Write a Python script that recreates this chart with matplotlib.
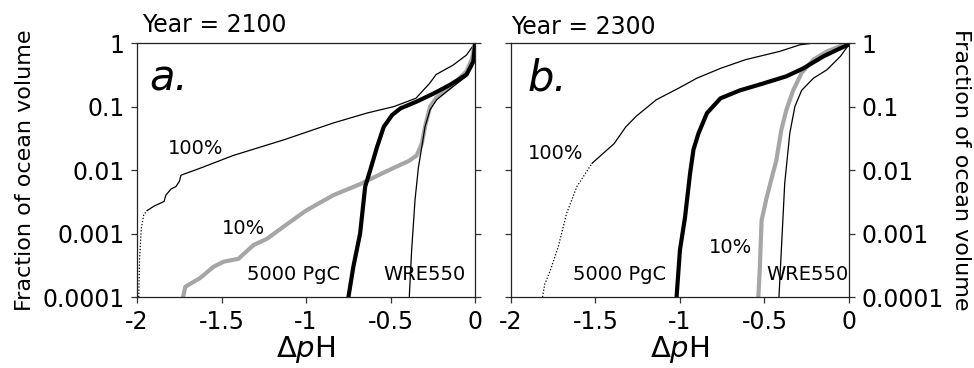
import matplotlib
matplotlib.use('Agg')
import matplotlib.pyplot as plt
from matplotlib.ticker import FixedLocator, NullLocator

GRAY = '#a6a6a6'

# ---- panel a: year 2100 ----
a_100_dot_x = [-1.99, -1.985, -1.975, -1.96, -1.94]
a_100_dot_y = [0.0001, 0.0004, 0.0012, 0.0020, 0.0023]
a_100_x = [-1.94, -1.90, -1.84, -1.83, -1.80, -1.77, -1.75, -1.74, -1.63, -1.43, -1.13,
           -0.84, -0.64, -0.48, -0.35, -0.27, -0.23, -0.13, -0.05, 0.0]
a_100_y = [0.0023, 0.0027, 0.0032, 0.0040, 0.0050, 0.0055, 0.0066, 0.0083, 0.0106, 0.017, 0.030,
           0.055, 0.079, 0.10, 0.135, 0.23, 0.32, 0.45, 0.65, 1.0]

a_5000_x = [-0.749, -0.72, -0.68, -0.65, -0.62, -0.58, -0.54, -0.49, -0.44, -0.345,
            -0.246, -0.148, -0.05, -0.01, 0.0]
a_5000_y = [0.0001, 0.0003, 0.001, 0.0055, 0.010, 0.023, 0.048, 0.074, 0.094, 0.12,
            0.16, 0.22, 0.32, 0.51, 0.94]

a_10_x = [-1.728, -1.714, -1.626, -1.547, -1.488, -1.40, -1.31, -1.23, -1.13, -1.0, -0.84,
          -0.68, -0.53, -0.39, -0.345, -0.315, -0.296, -0.266, -0.227, -0.148, -0.05, -0.02, 0.0]
a_10_y = [0.0001, 0.000145, 0.0002, 0.0003, 0.00036, 0.0004, 0.00066, 0.00083, 0.0013, 0.0023, 0.004,
          0.006, 0.0094, 0.014, 0.017, 0.026, 0.048, 0.10, 0.14, 0.20, 0.36, 0.55, 1.0]

a_wre_x = [-0.389, -0.375, -0.355, -0.335, -0.315, -0.296, -0.266, -0.227, -0.148, -0.05, -0.01, 0.0]
a_wre_y = [0.0001, 0.00055, 0.0034, 0.011, 0.023, 0.048, 0.089, 0.128, 0.19, 0.30, 0.48, 1.0]

# ---- panel b: year 2300 ----
b_100_dot_x = [-1.813, -1.80, -1.77, -1.72, -1.67, -1.61, -1.52]
b_100_dot_y = [0.0001, 0.00016, 0.00025, 0.00062, 0.0021, 0.0055, 0.0128]
b_100_x = [-1.52, -1.39, -1.32, -1.26, -1.14, -1.0, -0.90, -0.76, -0.61, -0.41, -0.29, -0.21, 0.0]
b_100_y = [0.0128, 0.026, 0.048, 0.07, 0.128, 0.20, 0.28, 0.40, 0.55, 0.74, 0.94, 1.0, 1.0]

b_5000_x = [-1.02, -1.0, -0.97, -0.94, -0.92, -0.89, -0.84, -0.76, -0.645, -0.51, -0.37,
            -0.27, -0.15, -0.05, 0.0]
b_5000_y = [0.0001, 0.00055, 0.0018, 0.0089, 0.021, 0.038, 0.079, 0.135, 0.18, 0.23, 0.30,
            0.40, 0.62, 0.83, 0.95]

b_10_x = [-0.536, -0.527, -0.517, -0.49, -0.45, -0.43, -0.40, -0.37, -0.33, -0.28, -0.21, -0.13, -0.03, 0.0]
b_10_y = [0.0001, 0.0003, 0.0016, 0.0034, 0.0089, 0.014, 0.043, 0.089, 0.18, 0.34, 0.55, 0.74, 0.94, 1.0]

b_wre_x = [-0.414, -0.40, -0.38, -0.35, -0.32, -0.28, -0.21, -0.13, -0.05, 0.0]
b_wre_y = [0.0001, 0.00055, 0.0062, 0.038, 0.10, 0.18, 0.28, 0.38, 0.62, 0.95]

yticks = [0.0001, 0.001, 0.01, 0.1, 1]
ytick_labels = ['0.0001', '0.001', '0.01', '0.1', '1']
xticks = [-2, -1.5, -1, -0.5, 0]
xtick_labels = ['-2', '-1.5', '-1', '-0.5', '0']

plt.rcParams['font.family'] = ['DejaVu Sans']
plt.rcParams['mathtext.fontset'] = 'dejavusans'

fig = plt.figure(figsize=(9.74, 3.68), dpi=100)
ax_a = fig.add_axes([0.1407, 0.1929, 0.347, 0.690])
ax_b = fig.add_axes([0.5246, 0.1929, 0.347, 0.690])


def style_axes(ax, side):
    ax.set_yscale('log')
    ax.set_xlim(-2, 0)
    ax.set_ylim(0.0001, 1)
    ax.yaxis.set_major_locator(FixedLocator(yticks))
    ax.yaxis.set_minor_locator(NullLocator())
    ax.set_xticks(xticks)
    ax.set_xticklabels(xtick_labels, fontsize=17)
    ax.set_yticks(yticks)
    ax.set_yticklabels(ytick_labels, fontsize=17)
    ax.tick_params(axis='both', direction='out', length=4, width=0.9, color='#333333', pad=5,
                   left=True, right=True, labelleft=(side == 'left'), labelright=(side == 'right'))
    for s in ax.spines.values():
        s.set_linewidth(0.9)
        s.set_color('#222222')
    ax.set_xlabel(r'$\Delta\mathit{p}\mathrm{H}$', fontsize=21, labelpad=0)
    ax.set_ylabel('Fraction of ocean volume', fontsize=16, labelpad=5)
    if side == 'right':
        ax.yaxis.set_label_position('right')
        ax.yaxis.label.set_rotation(-90)
        ax.yaxis.labelpad = 20


for ax, side in [(ax_a, 'left'), (ax_b, 'right')]:
    style_axes(ax, side)

# panel a
ax_a.plot(a_100_dot_x, a_100_dot_y, color='black', lw=0.9, ls=(0, (1, 1.5)))
ax_a.plot(a_100_x, a_100_y, color='black', lw=0.9)
ax_a.plot(a_10_x, a_10_y, color=GRAY, lw=3)
ax_a.plot(a_wre_x, a_wre_y, color='black', lw=0.9)
ax_a.plot(a_5000_x, a_5000_y, color='black', lw=3)

ax_a.text(0.035, 0.86, 'a.', transform=ax_a.transAxes, fontsize=30, style='italic', va='center')
ax_a.text(0.015, 1.07, 'Year = 2100', transform=ax_a.transAxes, fontsize=17, ha='left', va='center')
ax_a.text(-1.82, 0.022, '100%', fontsize=14, ha='left', va='center')
ax_a.text(-1.5, 0.0012, '10%', fontsize=14, ha='left', va='center')
ax_a.text(-1.35, 0.00023, '5000 PgC', fontsize=14, ha='left', va='center')
ax_a.text(-0.54, 0.00023, 'WRE550', fontsize=14, ha='left', va='center')

# panel b
ax_b.plot(b_100_dot_x, b_100_dot_y, color='black', lw=0.9, ls=(0, (1, 1.5)))
ax_b.plot(b_100_x, b_100_y, color='black', lw=0.9)
ax_b.plot(b_10_x, b_10_y, color=GRAY, lw=3)
ax_b.plot(b_wre_x, b_wre_y, color='black', lw=0.9)
ax_b.plot(b_5000_x, b_5000_y, color='black', lw=3)

ax_b.text(0.05, 0.86, 'b.', transform=ax_b.transAxes, fontsize=30, style='italic', va='center')
ax_b.text(0.0, 1.065, 'Year = 2300', transform=ax_b.transAxes, fontsize=17, ha='left', va='center')
ax_b.text(-1.9, 0.018, '100%', fontsize=14, ha='left', va='center')
ax_b.text(-0.83, 0.0006, '10%', fontsize=14, ha='left', va='center')
ax_b.text(-1.63, 0.00023, '5000 PgC', fontsize=14, ha='left', va='center')
ax_b.text(-0.49, 0.00023, 'WRE550', fontsize=14, ha='left', va='center')

fig.savefig('out.png', dpi=100)
